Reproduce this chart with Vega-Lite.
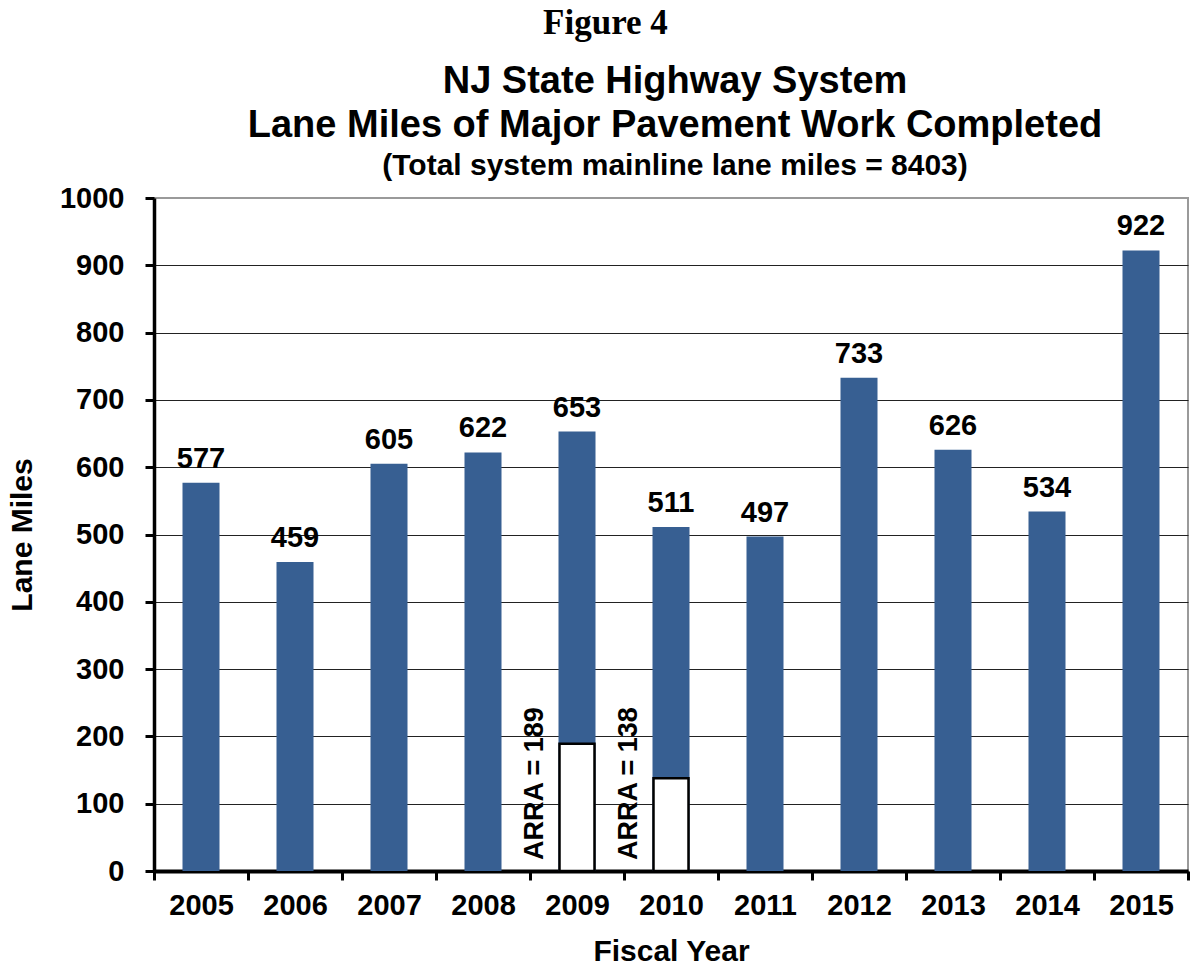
{
  "$schema": "https://vega.github.io/schema/vega-lite/v6.json",
  "padding": {"left": 6, "top": 6, "right": 5, "bottom": 5},
  "background": "white",
  "title": {
    "text": "Figure 4",
    "font": "Liberation Serif",
    "fontSize": 35,
    "fontWeight": "bold",
    "color": "black",
    "anchor": "middle",
    "dx": 7,
    "offset": 21
  },
  "config": {
    "font": "Liberation Sans",
    "view": {"stroke": "#9a9a9a", "strokeWidth": 2},
    "axis": {
      "labelFont": "Liberation Sans",
      "labelFontWeight": "bold",
      "labelFontSize": 29,
      "labelColor": "black",
      "titleFont": "Liberation Sans",
      "titleFontWeight": "bold",
      "titleFontSize": 30,
      "titleColor": "black",
      "domainColor": "black",
      "tickColor": "black"
    }
  },
  "vconcat": [
    {
      "width": 1034,
      "height": 673,
      "title": {
        "text": ["NJ State Highway System", "Lane Miles of Major Pavement Work Completed"],
        "subtitle": "(Total system mainline lane miles = 8403)",
        "font": "Liberation Sans",
        "fontSize": 38,
        "fontWeight": "bold",
        "lineHeight": 44,
        "color": "black",
        "subtitleFont": "Liberation Sans",
        "subtitleFontSize": 30,
        "subtitleFontWeight": "bold",
        "subtitleColor": "black",
        "subtitlePadding": 6,
        "anchor": "middle",
        "dx": 4,
        "offset": 3
      },
      "data": {
        "values": [
          {"year": "2005", "miles": 577, "arra": null},
          {"year": "2006", "miles": 459, "arra": null},
          {"year": "2007", "miles": 605, "arra": null},
          {"year": "2008", "miles": 622, "arra": null},
          {"year": "2009", "miles": 653, "arra": 189},
          {"year": "2010", "miles": 511, "arra": 138},
          {"year": "2011", "miles": 497, "arra": null},
          {"year": "2012", "miles": 733, "arra": null},
          {"year": "2013", "miles": 626, "arra": null},
          {"year": "2014", "miles": 534, "arra": null},
          {"year": "2015", "miles": 922, "arra": null}
        ]
      },
      "encoding": {
        "x": {
          "field": "year",
          "type": "ordinal",
          "scale": {"paddingInner": 0, "paddingOuter": 0},
          "axis": {
            "title": "Fiscal Year",
            "labelAngle": 0,
            "labelPadding": 11,
            "titlePadding": 16,
            "domainWidth": 4,
            "tickBand": "extent",
            "tickSize": 9,
            "tickWidth": 3
          }
        }
      },
      "layer": [
        {
          "mark": {"type": "bar", "size": 37, "color": "#375f92"},
          "encoding": {
            "y": {
              "field": "miles",
              "type": "quantitative",
              "scale": {"domain": [0, 1000]},
              "axis": {
                "title": "Lane Miles",
                "format": "d",
                "values": [0, 100, 200, 300, 400, 500, 600, 700, 800, 900, 1000],
                "labelPadding": 21,
                "titlePadding": 22,
                "domainWidth": 3.5,
                "tickSize": 9,
                "tickWidth": 3,
                "grid": true,
                "gridWidth": 1.2,
                "gridColor": {"condition": {"test": "datum.value === 1000", "value": "#9a9a9a"}, "value": "#222222"}
              }
            }
          }
        },
        {
          "transform": [{"filter": "datum.arra != null"}],
          "mark": {"type": "bar", "size": 35, "fill": "white", "stroke": "black", "strokeWidth": 2.5},
          "encoding": {"y": {"field": "arra", "type": "quantitative"}}
        },
        {
          "mark": {"type": "text", "fontSize": 29, "fontWeight": "bold", "color": "black", "baseline": "alphabetic", "dy": -15},
          "encoding": {
            "y": {"field": "miles", "type": "quantitative"},
            "text": {"field": "miles", "type": "quantitative"}
          }
        },
        {
          "transform": [
            {"filter": "datum.arra != null"},
            {"calculate": "'ARRA = ' + datum.arra", "as": "arraLabel"}
          ],
          "mark": {"type": "text", "fontSize": 27, "fontWeight": "bold", "color": "black", "angle": 270, "align": "left", "baseline": "middle", "xOffset": -42, "yOffset": -11},
          "encoding": {
            "y": {"datum": 0, "type": "quantitative"},
            "text": {"field": "arraLabel", "type": "nominal"}
          }
        }
      ]
    }
  ]
}
